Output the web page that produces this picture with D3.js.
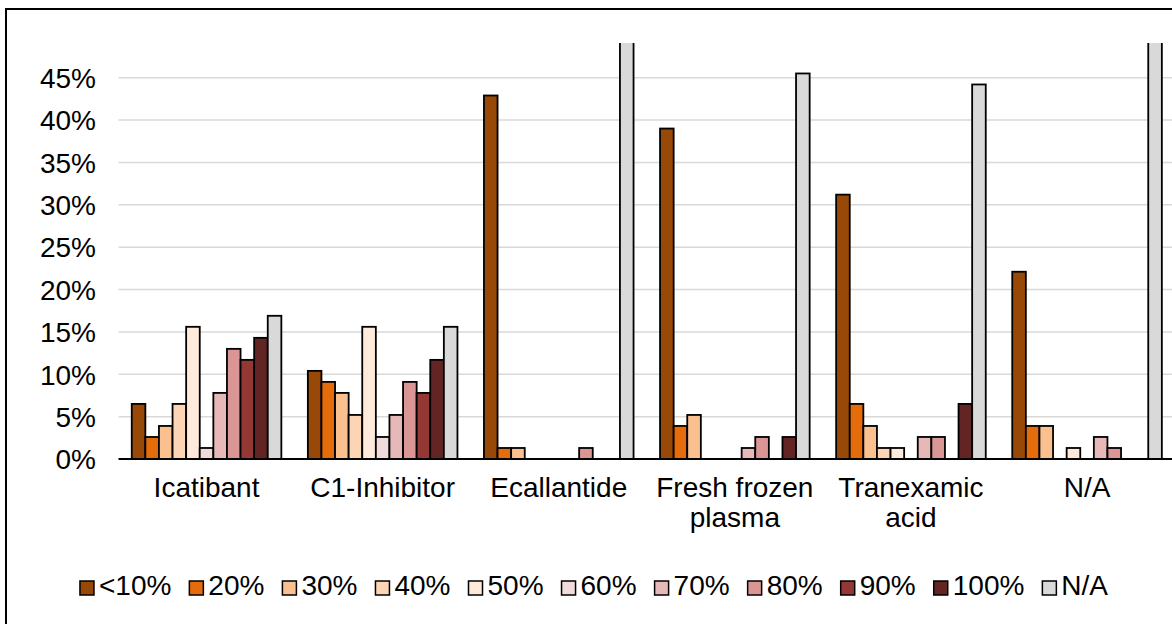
<!DOCTYPE html>
<html>
<head>
<meta charset="utf-8">
<script src="https://cdn.jsdelivr.net/npm/d3@7"></script>
<style>
  html, body { margin: 0; padding: 0; background: #fff; }
  svg { display: block; font-family: "Liberation Sans", Arial, Helvetica, sans-serif; }
</style>
</head>
<body>
<svg id="chart" width="1172" height="624"></svg>
<script>
// Treatment categories (x axis); "\n" splits a label over two lines
const categories = ["Icatibant", "C1-Inhibitor", "Ecallantide", "Fresh frozen\nplasma", "Tranexamic\nacid", "N/A"];

// Share of respondents (%) per response level, one array per level, in category order
const lt10   = [6.5, 10.4, 42.9, 39.0, 31.2, 22.1];
const p20    = [2.6,  9.1,  1.3,  3.9,  6.5,  3.9];
const p30    = [3.9,  7.8,  1.3,  5.2,  3.9,  3.9];
const p40    = [6.5,  5.2,  0,    0,    1.3,  0];
const p50    = [15.6, 15.6, 0,    0,    1.3,  1.3];
const p60    = [1.3,  2.6,  0,    0,    0,    0];
const p70    = [7.8,  5.2,  0,    1.3,  2.6,  2.6];
const p80    = [13.0, 9.1,  1.3,  2.6,  2.6,  1.3];
const p90    = [11.7, 7.8,  0,    0,    0,    0];
const p100   = [14.3, 11.7, 0,    2.6,  6.5,  0];
const pNA    = [16.9, 15.6, 53.2, 45.5, 44.2, 64.9];

const seriesNames  = ["<10%", "20%", "30%", "40%", "50%", "60%", "70%", "80%", "90%", "100%", "N/A"];
const seriesValues = [lt10, p20, p30, p40, p50, p60, p70, p80, p90, p100, pNA];
const seriesColors = ["#984807", "#E46C0A", "#FAC090", "#FCD5B5", "#FDEADA",
                      "#F2DCDB", "#E6B9B8", "#D99694", "#953735", "#632523", "#D9D9D9"];

// Y ticks (%)
const yTicks = [0, 5, 10, 15, 20, 25, 30, 35, 40, 45];

const svg = d3.select("#chart");
const FONT = 28;

// Plot area
const plot = { left: 118.5, right: 1175.1, top: 43, bottom: 459 };

const x0 = d3.scaleBand().domain(categories).range([plot.left, plot.right]).padding(0);
const x1 = d3.scaleBand().domain(seriesNames).range([0, x0.bandwidth()])
  .paddingInner(0).paddingOuter(0.974);
const y = d3.scaleLinear().domain([0, 45]).range([plot.bottom, 77.7]);

// Outer frame
svg.append("rect")
  .attr("x", 6).attr("y", 9).attr("width", 1180).attr("height", 620)
  .attr("fill", "none").attr("stroke", "#000").attr("stroke-width", 2);

// Gridlines
svg.append("g")
  .selectAll("line")
  .data(yTicks.filter(t => t > 0))
  .join("line")
  .attr("x1", plot.left).attr("x2", plot.right)
  .attr("y1", d => y(d)).attr("y2", d => y(d))
  .attr("stroke", "#D9D9D9").attr("stroke-width", 1.5);

// Y axis labels
const yAxis = d3.axisLeft(y).tickValues(yTicks).tickFormat(d => d + "%").tickSize(0).tickPadding(0);
const gy = svg.append("g").attr("transform", "translate(96,0)").call(yAxis);
gy.select(".domain").remove();
gy.selectAll("text")
  .attr("font-size", FONT).attr("fill", "#000")
  .attr("font-family", "'Liberation Sans', Arial, Helvetica, sans-serif")
  .attr("dy", "0.35em");

// Bars, clipped to the plot area
svg.append("defs").append("clipPath").attr("id", "plotClip")
  .append("rect")
  .attr("x", plot.left - 5).attr("y", plot.top)
  .attr("width", plot.right - plot.left + 10).attr("height", plot.bottom - plot.top + 5);

const barData = [];
categories.forEach((c, ci) => {
  seriesNames.forEach((s, si) => {
    const v = seriesValues[si][ci];
    if (v > 0) barData.push({ cat: c, series: s, value: v, color: seriesColors[si] });
  });
});

svg.append("g").attr("clip-path", "url(#plotClip)")
  .selectAll("rect")
  .data(barData)
  .join("rect")
  .attr("x", d => x0(d.cat) + x1(d.series))
  .attr("width", x1.bandwidth())
  .attr("y", d => y(d.value))
  .attr("height", d => y(0) - y(d.value))
  .attr("fill", d => d.color)
  .attr("stroke", "#000")
  .attr("stroke-width", 1.8);

// X axis line
svg.append("line")
  .attr("x1", plot.left).attr("x2", plot.right)
  .attr("y1", y(0)).attr("y2", y(0))
  .attr("stroke", "#000").attr("stroke-width", 1.8);

// Category labels
const catG = svg.append("g");
categories.forEach(c => {
  const lines = c.split("\n");
  const t = catG.append("text")
    .attr("x", x0(c) + x0.bandwidth() / 2)
    .attr("y", 497)
    .attr("text-anchor", "middle")
    .attr("font-size", FONT)
    .attr("fill", "#000");
  lines.forEach((ln, i) => {
    t.append("tspan")
      .attr("x", x0(c) + x0.bandwidth() / 2)
      .attr("dy", i === 0 ? 0 : 30)
      .text(ln);
  });
});

// Legend, centred below the chart
const legend = svg.append("g");
const sw = 14, gapText = 5, gapItem = 18;
const items = seriesNames.map((s, i) => {
  const g = legend.append("g");
  g.append("rect")
    .attr("x", 0).attr("y", 581).attr("width", sw).attr("height", sw)
    .attr("fill", seriesColors[i]).attr("stroke", "#000").attr("stroke-width", 1.5);
  const t = g.append("text")
    .attr("x", sw + gapText).attr("y", 595)
    .attr("font-size", FONT).attr("fill", "#000")
    .text(s);
  return { g, w: sw + gapText + t.node().getComputedTextLength() };
});
const totalW = d3.sum(items, d => d.w) + gapItem * (items.length - 1);
let cx = 594 - totalW / 2;
items.forEach(it => {
  it.g.attr("transform", `translate(${cx},0)`);
  cx += it.w + gapItem;
});
</script>
</body>
</html>
